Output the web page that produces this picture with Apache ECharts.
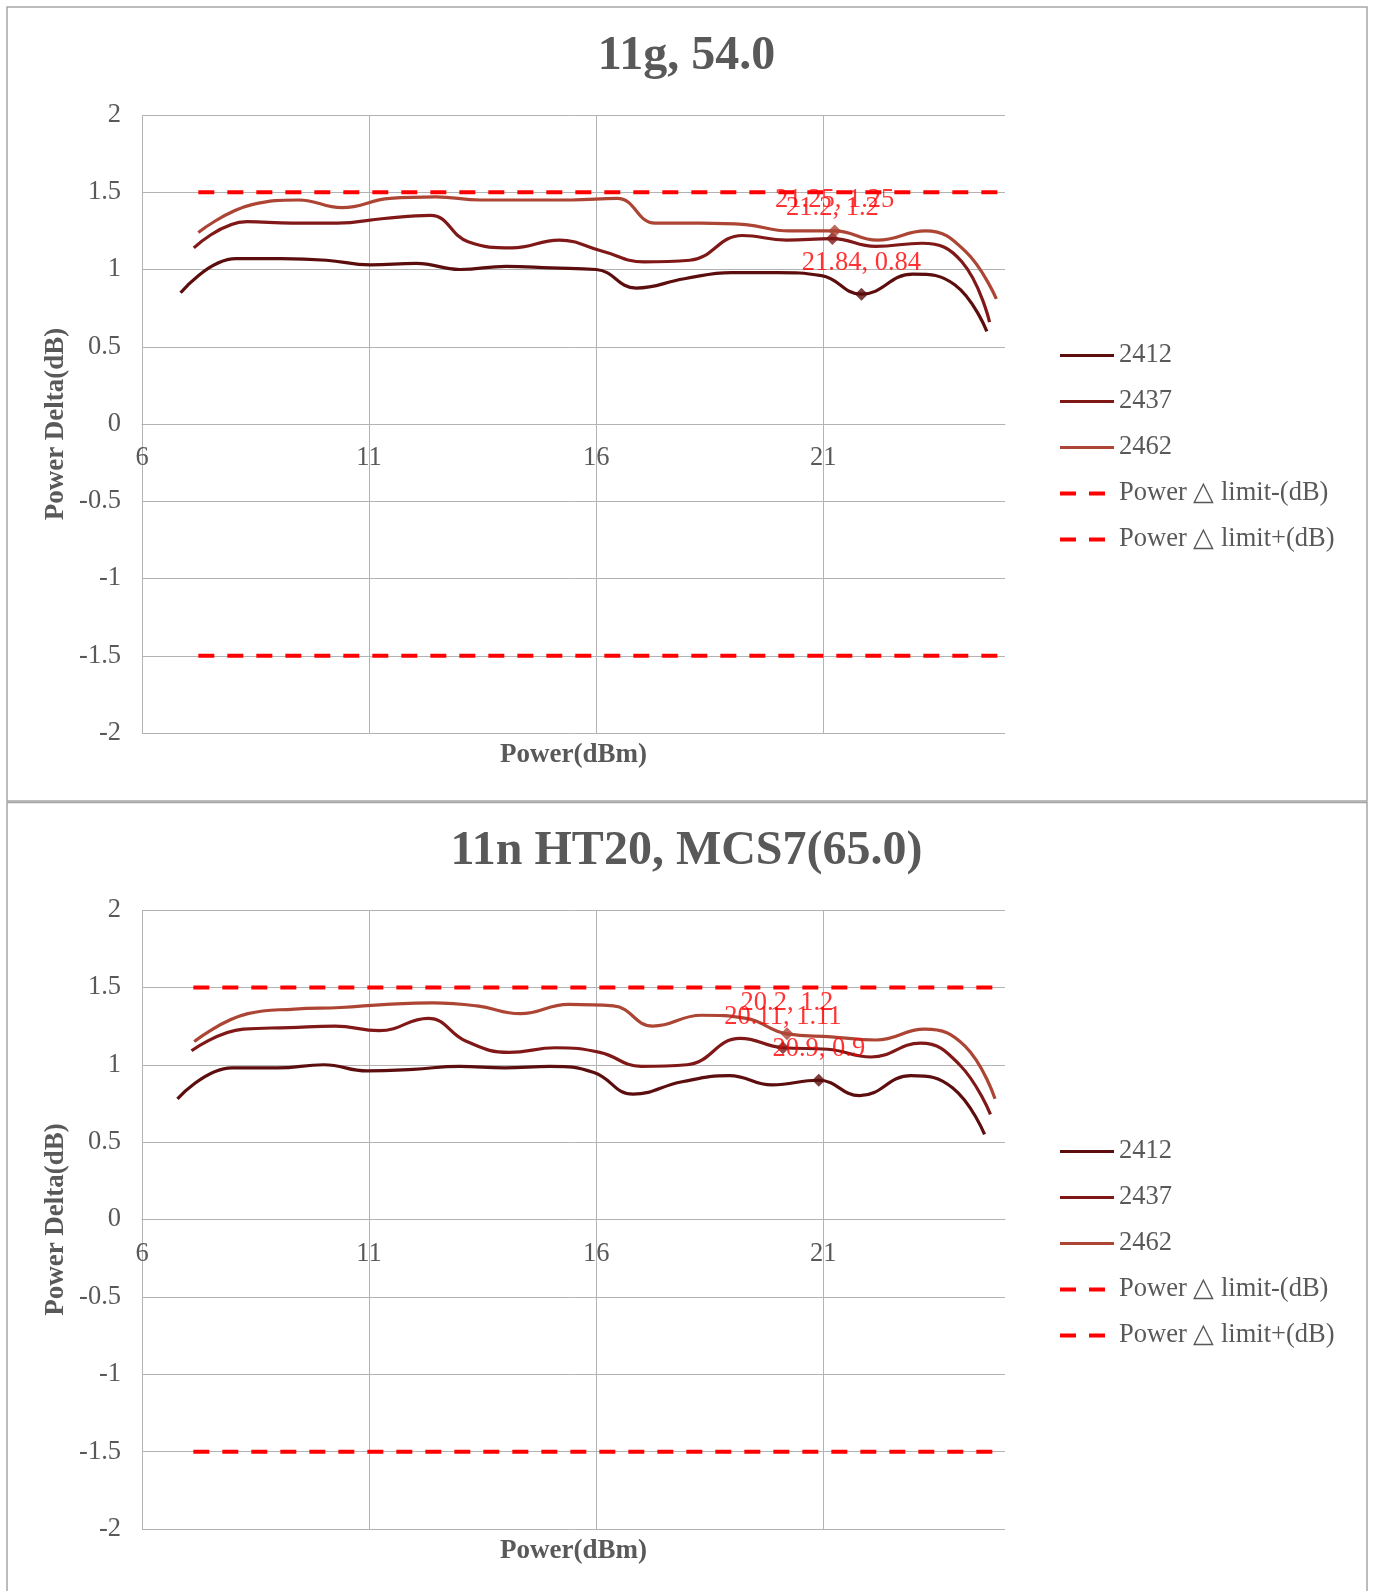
<!DOCTYPE html>
<html>
<head>
<meta charset="utf-8">
<script src="https://cdn.jsdelivr.net/npm/echarts@6/dist/echarts.min.js"></script>
<style>
  html, body { margin: 0; padding: 0; background: #ffffff; }
  #chart { width: 1373px; height: 1591px; }
</style>
</head>
<body>
<div id="chart"></div>
<script>
// ---- 11g, 54.0 : measured output power (dBm) vs. power delta (dB) ----
const power2412_g = [6.85, 8.07, 9.07, 10.06, 11.03, 12.04, 13.0, 14.02, 15.01, 16.0, 16.88, 17.94, 18.98, 19.98, 20.96, 21.84, 22.97, 23.9, 24.6];
const delta2412_g = [0.85, 1.07, 1.07, 1.06, 1.03, 1.04, 1.0, 1.02, 1.01, 1.0, 0.88, 0.94, 0.98, 0.98, 0.96, 0.84, 0.97, 0.9, 0.6];
const power2437_g = [7.14, 8.31, 9.3, 10.3, 11.33, 12.35, 13.18, 14.14, 15.19, 16.12, 17.05, 18.06, 19.22, 20.19, 21.2, 22.15, 23.17, 24.05, 24.66];
const delta2437_g = [1.14, 1.31, 1.3, 1.3, 1.33, 1.35, 1.18, 1.14, 1.19, 1.12, 1.05, 1.06, 1.22, 1.19, 1.2, 1.15, 1.17, 1.05, 0.66];
const power2462_g = [7.24, 8.42, 9.45, 10.4, 11.46, 12.47, 13.45, 14.45, 15.45, 16.46, 17.3, 18.3, 19.29, 20.25, 21.25, 22.19, 23.25, 24.12, 24.81];
const delta2462_g = [1.24, 1.42, 1.45, 1.4, 1.46, 1.47, 1.45, 1.45, 1.45, 1.46, 1.3, 1.3, 1.29, 1.25, 1.25, 1.19, 1.25, 1.12, 0.81];
const limitSpan_g = [7.24, 24.95];
// highlighted readings (index into the arrays above) for 2412 / 2437 / 2462
const marked_g = [15, 14, 14];

// ---- 11n HT20, MCS7(65.0) ----
const power2412_n = [6.78, 7.98, 8.98, 10.0, 10.96, 11.97, 12.99, 13.98, 14.99, 15.95, 16.81, 17.89, 18.93, 19.87, 20.9, 21.8, 22.93, 23.85, 24.55];
const delta2412_n = [0.78, 0.98, 0.98, 1.0, 0.96, 0.97, 0.99, 0.98, 0.99, 0.95, 0.81, 0.89, 0.93, 0.87, 0.9, 0.8, 0.93, 0.85, 0.55];
const power2437_n = [7.09, 8.23, 9.24, 10.25, 11.22, 12.3, 13.15, 14.08, 15.11, 16.08, 16.99, 18.0, 19.17, 20.11, 21.1, 22.05, 23.14, 24.0, 24.68];
const delta2437_n = [1.09, 1.23, 1.24, 1.25, 1.22, 1.3, 1.15, 1.08, 1.11, 1.08, 0.99, 1.0, 1.17, 1.11, 1.1, 1.05, 1.14, 1.0, 0.68];
const power2462_n = [7.15, 8.33, 9.36, 10.37, 11.39, 12.4, 13.38, 14.33, 15.39, 16.38, 17.25, 18.32, 19.3, 20.2, 21.18, 22.16, 23.23, 24.12, 24.78];
const delta2462_n = [1.15, 1.33, 1.36, 1.37, 1.39, 1.4, 1.38, 1.33, 1.39, 1.38, 1.25, 1.32, 1.3, 1.2, 1.18, 1.16, 1.23, 1.12, 0.78];
const limitSpan_n = [7.13, 24.8];
const marked_n = [14, 13, 13];

// ---- shared ----
const channels = ['2412', '2437', '2462'];
const limitNames = ['Power \u25B3 limit-(dB)', 'Power \u25B3 limit+(dB)'];
const limitLow = -1.5;
const limitHigh = 1.5;
const chartTitles = ['11g, 54.0', '11n HT20, MCS7(65.0)'];
const xName = 'Power(dBm)';
const yName = 'Power Delta(dB)';

const channelColors = ['#5c0d0d', '#801818', '#ad4535'];
const limitColor = '#ff0000';
const textColor = '#595959';
const gridColor = '#b3b3b3';
const serif = '"Liberation Serif", "Times New Roman", serif';
const channelLine = { width: 3.2 };
const limitLine = { width: 4, type: [16, 13] };

const panels = [
  { title: chartTitles[0], top: 115, height: 618, titleTop: 28, legendTop: 342, frameY: 7, frameH: 794,
    powers: [power2412_g, power2437_g, power2462_g], deltas: [delta2412_g, delta2437_g, delta2462_g],
    span: limitSpan_g, marked: marked_g },
  { title: chartTitles[1], top: 910, height: 619, titleTop: 823, legendTop: 1138, frameY: 802.5, frameH: 800,
    powers: [power2412_n, power2437_n, power2462_n], deltas: [delta2412_n, delta2437_n, delta2462_n],
    span: limitSpan_n, marked: marked_n }
];

const zip = (xs, ys) => xs.map((x, i) => [x, ys[i]]);

const option = {
  animation: false,
  backgroundColor: '#ffffff',
  title: [], grid: [], xAxis: [], yAxis: [], legend: [], series: [], graphic: []
};

panels.forEach((p, k) => {
  option.title.push({
    text: p.title, left: 'center', top: p.titleTop,
    textStyle: { fontFamily: serif, fontSize: 48, fontWeight: 'bold', color: textColor }
  });
  option.grid.push({ left: 142, top: p.top, width: 863, height: p.height });
  // the power axis crosses the delta axis at 0, i.e. half way up the plot
  option.xAxis.push({
    type: 'value', gridIndex: k, min: 6, max: 25, interval: 5,
    offset: -p.height / 2,
    axisLine: { show: true, onZero: false, lineStyle: { color: gridColor, width: 1 } },
    axisTick: { show: false },
    axisLabel: { showMaxLabel: false, margin: 21, fontFamily: serif, fontSize: 26.5, color: textColor },
    splitLine: { show: true, showMaxLine: false, lineStyle: { color: gridColor, width: 1 } }
  });
  option.yAxis.push({
    type: 'value', gridIndex: k, min: -2, max: 2, interval: 0.5,
    axisLine: { show: false }, axisTick: { show: false },
    axisLabel: { margin: 21, fontFamily: serif, fontSize: 26.5, color: textColor },
    splitLine: { show: true, lineStyle: { color: gridColor, width: 1 } }
  });
  option.legend.push({
    orient: 'vertical', left: 1058, top: p.legendTop, padding: 0,
    itemWidth: 54, itemHeight: 14, itemGap: 19,
    itemStyle: { opacity: 0 },
    data: channels.map((n) => ({ name: n, lineStyle: channelLine }))
      .concat(limitNames.map((n) => ({ name: n, lineStyle: limitLine }))),
    textStyle: { fontFamily: serif, fontSize: 26.5, color: textColor }
  });

  channels.forEach((name, c) => {
    option.series.push({
      name, type: 'line', xAxisIndex: k, yAxisIndex: k,
      data: zip(p.powers[c], p.deltas[c]),
      smooth: 0.45, symbol: 'none', z: 3,
      lineStyle: Object.assign({ color: channelColors[c] }, channelLine),
      itemStyle: { color: channelColors[c] }
    });
  });

  [limitLow, limitHigh].forEach((lv, j) => {
    option.series.push({
      name: limitNames[j], type: 'line', xAxisIndex: k, yAxisIndex: k,
      data: [[p.span[0], lv], [p.span[1], lv]],
      symbol: 'none', z: 2,
      lineStyle: Object.assign({ color: limitColor }, limitLine),
      itemStyle: { color: limitColor }
    });
  });

  // highlighted readings with their value labels
  channels.forEach((name, c) => {
    const i = p.marked[c];
    option.series.push({
      name: name + ' marked', type: 'scatter', xAxisIndex: k, yAxisIndex: k,
      data: [[p.powers[c][i], p.deltas[c][i]]],
      symbol: 'diamond', symbolSize: 13, z: 4,
      itemStyle: { color: channelColors[c] },
      label: {
        show: true, position: 'top', distance: 11,
        fontFamily: serif, fontSize: 26.5, color: limitColor,
        formatter: (prm) => prm.value[0] + ', ' + prm.value[1]
      }
    });
  });

  // panel frame and axis titles
  option.graphic.push({
    type: 'rect', shape: { x: 7, y: p.frameY, width: 1360, height: p.frameH },
    style: { fill: null, stroke: '#a6a6a6', lineWidth: 1.5 }, silent: true
  });
  option.graphic.push({
    type: 'text', x: 573.5, y: p.top + p.height + 22,
    style: { text: xName, font: 'bold 27px ' + serif, fill: textColor, align: 'center', verticalAlign: 'middle' }
  });
  option.graphic.push({
    type: 'text', x: 56, y: p.top + p.height / 2, rotation: Math.PI / 2,
    style: { text: yName, font: 'bold 27px ' + serif, fill: textColor, align: 'center', verticalAlign: 'middle' }
  });
});

const chart = echarts.init(document.getElementById('chart'), null, { renderer: 'canvas' });
chart.setOption(option);
</script>
</body>
</html>
